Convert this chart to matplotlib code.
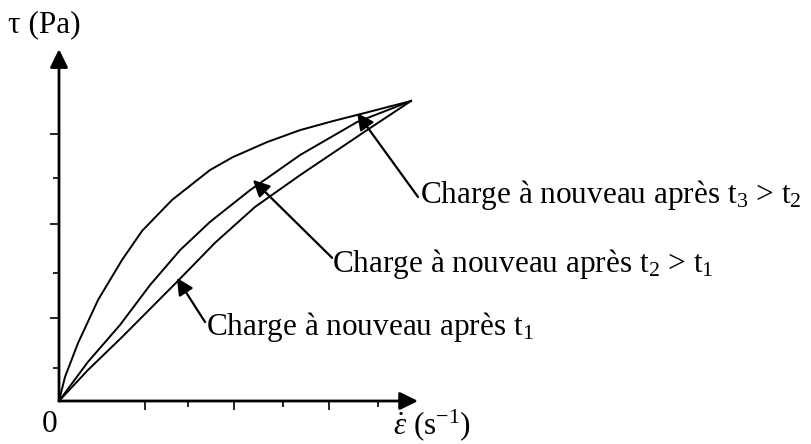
import numpy as np
import matplotlib
matplotlib.use("Agg")
import matplotlib.pyplot as plt

plt.rcParams['font.family'] = ['Liberation Serif', 'DejaVu Serif']
plt.rcParams['mathtext.fontset'] = 'custom'
plt.rcParams['mathtext.rm'] = 'Liberation Serif'
plt.rcParams['mathtext.it'] = 'Liberation Serif:italic'

# shear rate (arbitrary units) and shear stress for the three reloading curves
x_t1 = [0, 0.82, 1.79, 3.35, 4.43, 5.57, 6.85, 8.75, 10]
y_t1 = [0, 1.03, 2.13, 3.97, 5.27, 6.47, 7.53, 9.03, 10]

x_t2 = [0, 0.82, 1.73, 2.59, 3.44, 4.29, 5.43, 6.85, 8.47, 10]
y_t2 = [0, 1.30, 2.53, 3.87, 5.03, 5.97, 7.03, 8.20, 9.30, 10]

x_t3 = [0, 0.17, 0.54, 1.11, 1.79, 2.36, 3.21, 4.29, 4.94, 5.91, 6.85, 7.78, 8.75, 10]
y_t3 = [0, 0.80, 1.93, 3.37, 4.70, 5.67, 6.70, 7.70, 8.13, 8.63, 9.03, 9.33, 9.62, 10]

xticks_major = [2.44, 4.97, 7.67]
xticks_minor = [3.66, 6.36, 9.06]
yticks_major = [2.77, 5.90, 8.90]
yticks_minor = [1.10, 4.27, 7.43]

labels = [r"Charge à nouveau après $\mathrm{t}_1$",
          r"Charge à nouveau après $\mathrm{t}_2$ > $\mathrm{t}_1$",
          r"Charge à nouveau après $\mathrm{t}_3$ > $\mathrm{t}_2$"]
label_pos = [(4.18, 2.2), (7.76, 4.3), (10.26, 6.6)]
arrow_tail = [(4.15, 2.63), (7.76, 4.77), (10.2, 6.8)]
arrow_tip = [(3.35, 4.1), (5.51, 7.37), (8.47, 9.6)]

x_end, y_end = 10.2, 11.73

fig = plt.figure(figsize=(8.11, 4.44), dpi=100)
ax = fig.add_axes([0, 0, 1, 1])
# 35.2 px per x unit, 30 px per y unit, origin at (59, 401) px
ax.set_xlim(-59 / 35.2, 752 / 35.2)
ax.set_ylim(-43 / 30, 401 / 30)

for xs, ys in [(x_t1, y_t1), (x_t2, y_t2), (x_t3, y_t3)]:
    ax.plot(xs, ys, color='black', lw=1.4, solid_joinstyle='round')

# axes with arrow heads
axis_arrow = dict(arrowstyle='-|>,head_length=0.55,head_width=0.27',
                  mutation_scale=20, lw=2, color='black', shrinkA=0, shrinkB=0)
ax.annotate('', xy=(0, y_end), xytext=(0, 0), arrowprops=axis_arrow)
ax.annotate('', xy=(x_end, 0), xytext=(0, 0), arrowprops=axis_arrow)

for s in ax.spines.values():
    s.set_visible(False)
ax.spines['left'].set_position(('data', 0))
ax.spines['bottom'].set_position(('data', 0))
ax.yaxis.set_ticks_position('left')
ax.xaxis.set_ticks_position('bottom')
ax.set_xticks(xticks_major)
ax.set_xticks(xticks_minor, minor=True)
ax.set_yticks(yticks_major)
ax.set_yticks(yticks_minor, minor=True)
ax.tick_params(which='major', length=6.5, width=1.2, direction='out',
               labelleft=False, labelbottom=False)
ax.tick_params(which='minor', length=4.3, width=1.2, direction='out')

# annotations
lbl_arrow = dict(arrowstyle='-|>,head_length=0.5,head_width=0.25',
                 mutation_scale=20, lw=1.6, color='black', shrinkA=0, shrinkB=0)
for txt, pos, tail, tip in zip(labels, label_pos, arrow_tail, arrow_tip):
    ax.annotate('', xy=tip, xytext=tail, arrowprops=lbl_arrow)
    ax.text(pos[0], pos[1], txt, fontsize=22.5, ha='left', va='baseline')

ax.text(-0.26, -1.03, '0', fontsize=22.5, ha='center', va='baseline')
ax.text(9.49, -1.1, r'$\dot{\varepsilon}$ (s$^{\mathrm{-1}}$)', fontsize=22.5,
        ha='left', va='baseline')
ax.text(-1.45, 12.3, 'τ (Pa)', fontsize=22.5, ha='left', va='baseline')

fig.savefig('out.png', dpi=100)
